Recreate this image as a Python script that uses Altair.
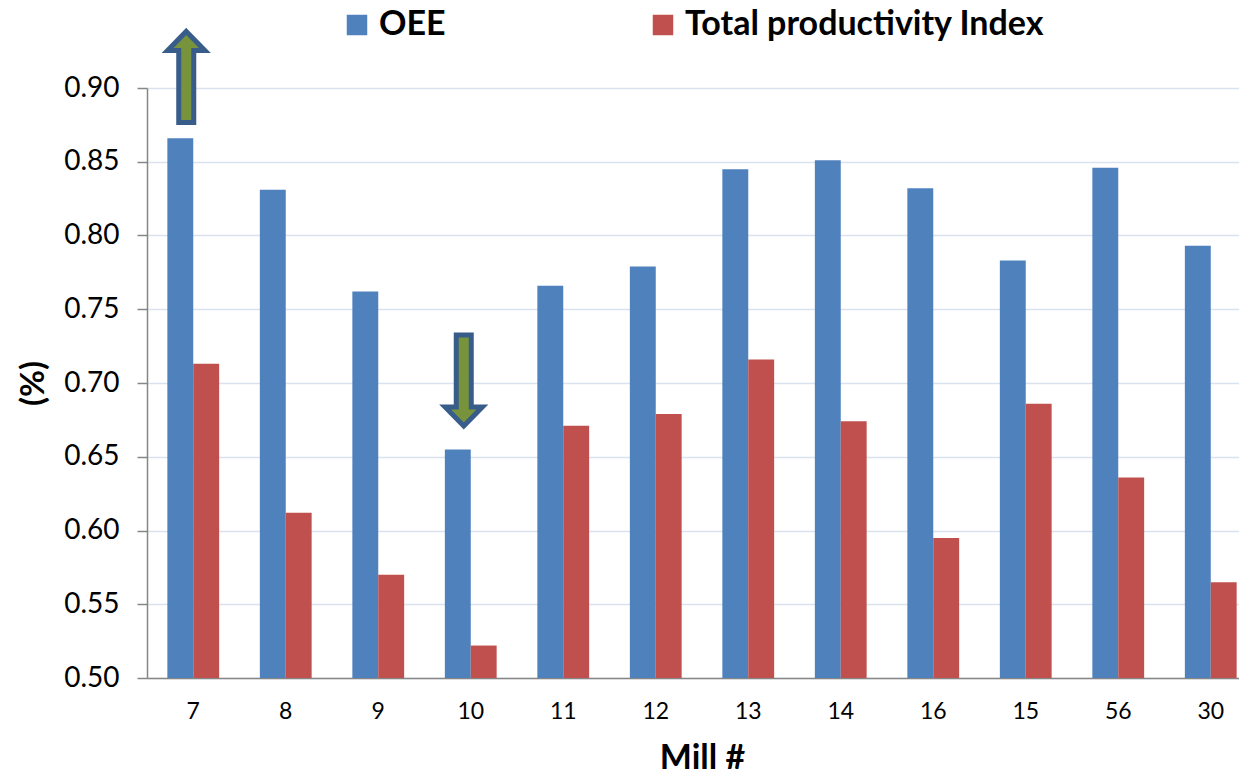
import altair as alt
import pandas as pd

# Mill numbers in plotting order
mills = ["7", "8", "9", "10", "11", "12", "13", "14", "16", "15", "56", "30"]
# Overall equipment effectiveness per mill
oee = [0.866, 0.831, 0.762, 0.655, 0.766, 0.779, 0.845, 0.851, 0.832, 0.783, 0.846, 0.793]
# Total productivity index per mill
tpi = [0.713, 0.612, 0.570, 0.522, 0.671, 0.679, 0.716, 0.674, 0.595, 0.686, 0.636, 0.565]

series_names = ["OEE", "Total productivity Index"]
series_colors = ["#4f81bd", "#c0504d"]
y_ticks = [0.50, 0.55, 0.60, 0.65, 0.70, 0.75, 0.80, 0.85, 0.90]

# Highlight arrows: best (up) and worst (down) OEE
arrow_mills = ["7", "10"]
arrow_levels = [0.9075, 0.7017]
arrow_paths = [
    "M0,-1 L0.41,-0.58 L0.165,-0.58 L0.165,1 L-0.165,1 L-0.165,-0.58 L-0.41,-0.58 Z",
    "M0,1 L0.41,0.58 L0.165,0.58 L0.165,-1 L-0.165,-1 L-0.165,0.58 L-0.41,0.58 Z",
]

FONT = "Lato"

bars_df = pd.DataFrame(
    {
        "mill": mills * 2,
        "series": [series_names[0]] * len(mills) + [series_names[1]] * len(mills),
        "value": oee + tpi,
    }
)
arrows_df = pd.DataFrame({"mill": arrow_mills, "level": arrow_levels, "path": arrow_paths})

x_enc = alt.X(
    "mill:N",
    sort=mills,
    scale=alt.Scale(paddingInner=0.44, paddingOuter=0.22, range=[0, 1110]),
    axis=alt.Axis(
        title="Mill #",
        labelAngle=0,
        labelFontSize=23,
        labelColor="#000000",
        labelPadding=22,
        ticks=False,
        grid=False,
        domainColor="#868686",
        domainWidth=1.5,
        titleFontSize=34,
        titleFontWeight="bold",
        titleColor="#000000",
        titlePadding=18,
    ),
)

y_scale = alt.Scale(domain=[0.5, 0.9], zero=False, nice=False)

bars = (
    alt.Chart(bars_df)
    .mark_bar(clip=True)
    .encode(
        x=x_enc,
        xOffset=alt.XOffset("series:N", sort=series_names),
        y=alt.Y(
            "value:Q",
            scale=y_scale,
            axis=alt.Axis(
                title="(%)",
                values=y_ticks,
                format=".2f",
                labelFontSize=28,
                labelColor="#000000",
                labelPadding=18,
                tickSize=10,
                tickColor="#868686",
                tickWidth=1.5,
                domainColor="#868686",
                domainWidth=1.5,
                gridColor="#d9e3f0",
                gridWidth=1.5,
                titleFontSize=33,
                titleFontWeight="bold",
                titleColor="#000000",
                titlePadding=13,
            ),
        ),
        y2=alt.datum(0.5),
        color=alt.Color(
            "series:N",
            scale=alt.Scale(domain=series_names, range=series_colors),
            legend=alt.Legend(
                title=None,
                orient="none",
                legendX=193,
                legendY=-80,
                direction="horizontal",
                gridAlign="none",
                columnPadding=200,
                symbolType="square",
                symbolSize=420,
                symbolStrokeWidth=0,
                labelOffset=5,
                labelLimit=0,
                labelFontSize=34,
                labelFontWeight="bold",
                labelColor="#000000",
                labelFont=FONT,
            ),
        ),
    )
)

arrows = (
    alt.Chart(arrows_df)
    .mark_point(
        filled=True,
        fill="#77933c",
        stroke="#385d8a",
        strokeWidth=5,
        opacity=1,
        strokeJoin="miter",
        xOffset=-7,
        clip=False,
    )
    .encode(
        x=alt.X("mill:N", sort=mills),
        y=alt.Y("level:Q", scale=y_scale),
        shape=alt.Shape("path:N", scale=None),
        size=alt.value(8281),
    )
)

chart = (
    alt.layer(bars, arrows)
    .properties(
        width=1092,
        height=590,
        autosize=alt.AutoSizeParams(type="none"),
        padding={"left": 147, "top": 88, "right": 0, "bottom": 96},
    )
    .configure(font=FONT)
    .configure_view(stroke=None)
    .configure_axis(labelFont=FONT, titleFont=FONT)
)

chart.save("out.html", embed_options={"renderer": "svg", "actions": False})
